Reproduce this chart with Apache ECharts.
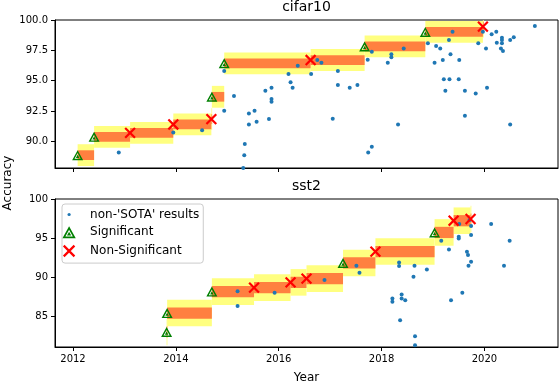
<!DOCTYPE html>
<html><head><meta charset="utf-8">
<script src="https://cdn.jsdelivr.net/npm/echarts@6/dist/echarts.min.js"></script>
<style>html,body{margin:0;padding:0;background:#fff}#c{width:560px;height:386px}</style>
</head><body><div id="c"></div>
<script>
// ---- data ----
const yearTicks = [2012, 2014, 2016, 2018, 2020];
const cifarTicks = [90, 92.5, 95, 97.5, 100];
const sstTicks = [85, 90, 95, 100];

const cifarSotaYears  = [2012.09, 2012.41, 2013.11, 2013.95, 2014.69, 2014.70, 2014.94, 2016.62, 2017.67, 2018.85, 2019.97];
const cifarSotaValues = [88.86, 90.37, 90.70, 91.39, 91.83, 93.67, 96.43, 96.70, 97.82, 99.02, 99.45];
const cifarSotaSignificant = [1, 1, 0, 0, 0, 1, 1, 0, 1, 1, 0];
const cifarInnerCI = 0.4;
const cifarOuterCI = 0.9;

const cifarOtherYears = [2012.89, 2013.95, 2014.51, 2014.94, 2014.94, 2015.13, 2015.34, 2015.33, 2015.31, 2015.42,
  2015.53, 2015.42, 2015.57, 2015.74, 2015.86, 2015.86, 2015.86, 2015.81, 2016.19, 2016.23,
  2016.27, 2016.37, 2016.63, 2016.75, 2016.83, 2017.15, 2017.15, 2017.05, 2017.38, 2017.53,
  2017.73, 2017.81, 2018.12, 2017.81, 2017.74, 2018.32, 2018.19, 2018.19, 2018.43, 2018.90,
  2019.06, 2019.14, 2019.03, 2019.19, 2019.31, 2019.38, 2019.34, 2019.51, 2019.21, 2019.32,
  2019.50, 2019.24, 2019.62, 2019.83, 2020.05, 2019.62, 2020.50, 2019.88, 2019.97, 2020.03,
  2020.14, 2020.23, 2020.24, 2020.34, 2020.34, 2020.34, 2020.32, 2020.36, 2020.50, 2020.57, 2020.98];
const cifarOtherValues = [89.08, 90.73, 90.92, 95.79, 92.52, 93.73, 89.77, 88.86, 87.80, 92.30,
  92.52, 91.39, 91.61, 94.17, 94.41, 93.48, 93.26, 91.83, 95.54, 94.86,
  94.41, 96.23, 95.54, 96.70, 96.48, 95.79, 94.64, 91.86, 94.41, 94.64,
  96.72, 97.39, 96.48, 89.55, 89.08, 91.39, 97.17, 96.92, 97.66, 98.08,
  97.85, 97.66, 96.48, 96.70, 98.35, 99.03, 97.17, 96.70, 95.11, 95.11,
  95.11, 94.17, 94.17, 93.95, 94.41, 92.10, 91.39, 98.08, 99.03, 97.66,
  98.82, 99.03, 98.13, 98.54, 98.35, 98.08, 97.66, 97.44, 98.35, 98.57, 99.50];

const sstSotaYears  = [2013.82, 2013.83, 2014.70, 2015.52, 2016.23, 2016.54, 2017.25, 2017.88, 2019.03, 2019.40, 2019.73];
const sstSotaValues = [82.99, 85.40, 88.15, 88.66, 89.33, 89.81, 91.82, 93.27, 95.72, 97.22, 97.44];
const sstSotaSignificant = [1, 1, 1, 0, 0, 0, 1, 0, 1, 0, 0];
const sstInnerCI = 0.72;
const sstOuterCI = 1.7;

const sstOtherYears = [2015.20, 2015.20, 2015.92, 2016.89, 2017.51, 2017.57, 2018.34, 2018.34, 2018.64, 2018.62,
  2018.88, 2018.21, 2018.21, 2018.39, 2018.39, 2018.46, 2018.36, 2018.65, 2018.65, 2019.16,
  2019.31, 2019.35, 2019.57, 2019.50, 2019.50, 2019.66, 2019.68, 2019.74, 2019.69, 2019.74,
  2019.74, 2019.71, 2019.51, 2020.13, 2020.49, 2020.38];
const sstOtherValues = [88.21, 86.32, 87.99, 89.62, 91.45, 90.55, 91.88, 91.41, 91.45, 90.04,
  90.99, 87.27, 86.84, 87.78, 87.27, 87.05, 84.49, 82.44, 81.28, 94.65,
  93.55, 87.05, 87.99, 95.17, 94.96, 93.24, 92.82, 91.96, 91.45, 95.38,
  96.54, 97.31, 96.79, 96.79, 94.65, 91.45];

// ---- styling / layout ----
const FONT = 'DejaVu Sans';
const xMin = 2011.65, xMax = 2021.43;
const cifarMin = 87.8, cifarMax = 100;
const sstMin = 81.06, sstMax = 100;
const BLUE = '#1f77b4', GREEN = '#008000', RED = '#ff0000';
const YELLOW = '#ffff80', ORANGE = '#ff8040';

const triPath = 'path://M5,0 L10,9 L0,9 Z M5,2.67 L2.2,7.71 L7.8,7.71 Z M5,4.12 L6.6,7 L3.4,7 Z';
const xPath = 'path://M-0.6,-0.6 M10.6,10.6 M0,0 L10,10 M10,0 L0,10';
const dotIcon = 'path://M0,0 M12,12 M4.4,6 A1.6,1.6 0 1 1 7.6,6 A1.6,1.6 0 1 1 4.4,6 Z';

function pairs(xs, ys, filter) {
  const out = [];
  xs.forEach((x, i) => { if (!filter || filter(i)) out.push([x, ys[i]]); });
  return out;
}
function bands(years, values) {
  return years.map((y, i) => [y, i + 1 < years.length ? years[i + 1] : y, values[i]]);
}
function bandSeries(idx, data, half, color) {
  return {
    type: 'custom', xAxisIndex: idx, yAxisIndex: idx, silent: true, z: 1, clip: true,
    data: data, encode: { x: [0, 1], y: 2 },
    renderItem: function (params, api) {
      const p0 = api.coord([api.value(0), api.value(2) + half]);
      const p1 = api.coord([api.value(1), api.value(2) - half]);
      return { type: 'rect', shape: { x: p0[0], y: p0[1], width: Math.max(p1[0] - p0[0], 0.8), height: p1[1] - p0[1] },
        style: { fill: color } };
    }
  };
}
function xAxisOpt(idx, showLabels) {
  return {
    type: 'value', gridIndex: idx, min: xMin, max: xMax,
    axisLine: { show: true, lineStyle: { color: '#000', width: 1 } },
    axisTick: { show: true, inside: false, length: 4, customValues: yearTicks, lineStyle: { color: '#000' } },
    axisLabel: { show: showLabels, customValues: yearTicks, margin: 7, fontFamily: FONT, fontSize: 10, color: '#000',
      formatter: v => String(v) },
    splitLine: { show: false },
    name: showLabels ? 'Year' : '', nameLocation: 'middle', nameGap: 25,
    nameTextStyle: { fontFamily: FONT, fontSize: 12, color: '#000' }
  };
}
function yAxisOpt(idx, min, max, ticks, fmt) {
  return {
    type: 'value', gridIndex: idx, min: min, max: max,
    axisLine: { show: true, lineStyle: { color: '#000', width: 1 } },
    axisTick: { show: true, inside: false, length: 4, customValues: ticks, lineStyle: { color: '#000' } },
    axisLabel: { customValues: ticks, margin: 7, fontFamily: FONT, fontSize: 10, color: '#000', formatter: fmt },
    splitLine: { show: false }
  };
}

const cifarOther = pairs(cifarOtherYears, cifarOtherValues);
const sstOther = pairs(sstOtherYears, sstOtherValues);

function allSeries(idx, otherPts, years, values, flags, inner, outer) {
  return [
    bandSeries(idx, bands(years, values), outer, YELLOW),
    bandSeries(idx, bands(years, values), inner, ORANGE),
    { type: 'scatter', name: "non-'SOTA' results", xAxisIndex: idx, yAxisIndex: idx, z: 3,
      data: otherPts, symbol: 'circle', symbolSize: 4, itemStyle: { color: BLUE, opacity: 1 } },
    { type: 'scatter', name: 'Significant', xAxisIndex: idx, yAxisIndex: idx, z: 4,
      data: pairs(years, values, i => flags[i] === 1), symbol: triPath, symbolSize: [11, 10],
      symbolKeepAspect: false, itemStyle: { color: GREEN, opacity: 1 } },
    { type: 'scatter', name: 'Non-Significant', xAxisIndex: idx, yAxisIndex: idx, z: 5,
      data: pairs(years, values, i => flags[i] === 0), symbol: xPath, symbolSize: 11,
      itemStyle: { color: 'rgba(0,0,0,0)', borderColor: RED, borderWidth: 2.2, opacity: 1 } }
  ];
}

const chart = echarts.init(document.getElementById('c'), null, { renderer: 'canvas' });
chart.setOption({
  animation: false,
  backgroundColor: '#fff',
  title: [
    { text: 'cifar10', left: 306.5, top: 0, textAlign: 'center', padding: 0,
      textStyle: { fontFamily: FONT, fontSize: 14, fontWeight: 'normal', color: '#000' } },
    { text: 'sst2', left: 306.5, top: 179, textAlign: 'center', padding: 0,
      textStyle: { fontFamily: FONT, fontSize: 14, fontWeight: 'normal', color: '#000' } }
  ],
  grid: [
    { left: 55, top: 20, width: 503, height: 148, show: true, borderColor: '#000', borderWidth: 1, containLabel: false },
    { left: 55, top: 199, width: 503, height: 148, show: true, borderColor: '#000', borderWidth: 1, containLabel: false }
  ],
  xAxis: [xAxisOpt(0, false), xAxisOpt(1, true)],
  yAxis: [
    yAxisOpt(0, cifarMin, cifarMax, cifarTicks, v => v.toFixed(1)),
    yAxisOpt(1, sstMin, sstMax, sstTicks, v => String(v))
  ],
  legend: {
    left: 62, top: 204, orient: 'vertical', selectedMode: false,
    itemWidth: 32, itemHeight: 12, itemGap: 5.7, padding: [4.5, 4, 5, 0],
    borderColor: '#cccccc', borderWidth: 1, borderRadius: 3, backgroundColor: 'rgba(255,255,255,0.8)',
    textStyle: { fontFamily: FONT, fontSize: 12, color: '#000' },
    data: [
      { name: "non-'SOTA' results", icon: dotIcon, itemStyle: { color: BLUE, borderWidth: 0, opacity: 1 } },
      { name: 'Significant', icon: triPath, itemStyle: { color: GREEN, borderWidth: 0, opacity: 1 } },
      { name: 'Non-Significant', icon: xPath, itemStyle: { color: 'rgba(0,0,0,0)', borderColor: RED, borderWidth: 2.2, opacity: 1 } }
    ]
  },
  graphic: [
    { type: 'text', x: 8, y: 183, rotation: Math.PI / 2,
      style: { text: 'Accuracy', fill: '#000', font: '12px "DejaVu Sans"', align: 'center', verticalAlign: 'middle' } }
  ],
  series: [].concat(
    allSeries(0, cifarOther, cifarSotaYears, cifarSotaValues, cifarSotaSignificant, cifarInnerCI, cifarOuterCI),
    allSeries(1, sstOther, sstSotaYears, sstSotaValues, sstSotaSignificant, sstInnerCI, sstOuterCI)
  )
});
</script>
</body></html>
